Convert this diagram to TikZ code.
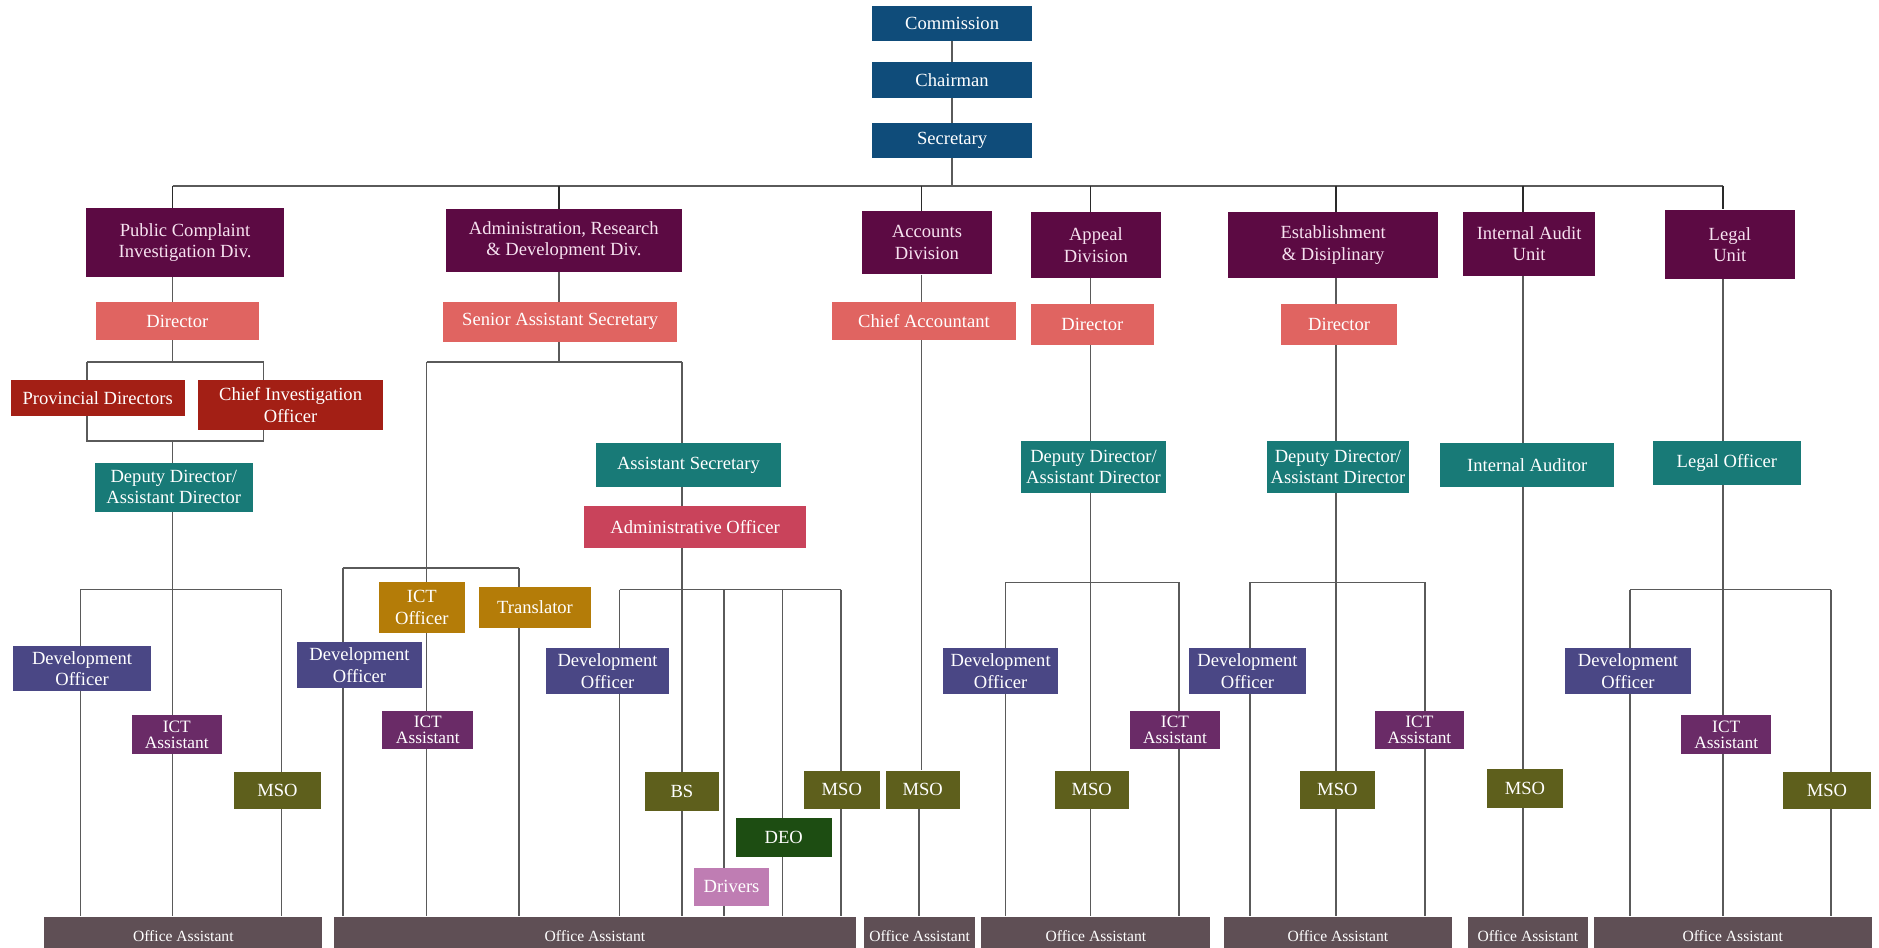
\documentclass[tikz,border=0pt]{standalone}
\usepackage{fontspec}
\setmainfont{Liberation Serif}
\usetikzlibrary{backgrounds}
\definecolor{cNavy}{HTML}{0F4C7A}
\definecolor{cDiv}{HTML}{5C0A43}
\definecolor{cDivTxt}{HTML}{F7E2F0}
\definecolor{cSalmon}{HTML}{E06461}
\definecolor{cRed}{HTML}{A31F15}
\definecolor{cTeal}{HTML}{187A77}
\definecolor{cRose}{HTML}{C9435B}
\definecolor{cGold}{HTML}{B47C08}
\definecolor{cDev}{HTML}{4A4785}
\definecolor{cIct}{HTML}{6A2B67}
\definecolor{cOlive}{HTML}{5E5F1C}
\definecolor{cDeo}{HTML}{1D4D12}
\definecolor{cDrv}{HTML}{BF7DB3}
\definecolor{cOA}{HTML}{5F4F55}
\definecolor{cLine}{HTML}{5A5A5A}
\definecolor{cTie}{HTML}{2A2A2A}
\tikzset{
  bx/.style={fill=#1, text=white, inner sep=0pt, align=center, font=\fontsize{15.5}{18}\selectfont},
  wh/.style 2 args={minimum width=#1pt, minimum height=#2pt},
  divbx/.style={bx=cDiv, text=cDivTxt},
  ictbx/.style={bx=cIct, font=\fontsize{14.5}{13}\selectfont},
  oabx/.style={bx=cOA, font=\fontsize{13}{15}\selectfont, minimum height=32pt},
  ln/.style={draw=cLine, line width=1.3pt},
  tie/.style={draw=cTie, line width=1.4pt},
}
\begin{document}
\begin{tikzpicture}[x=1pt,y=-1pt]
\useasboundingbox (0,0) rectangle (1568,791);
% ---------- top ----------
\node[bx=cNavy, wh={133}{29}] (comm) at (794.5,19.5) {Commission};
\node[bx=cNavy, wh={133}{30}] (chair) at (794.5,67) {Chairman};
\node[bx=cNavy, wh={133}{29}] (sec) at (794.5,117.5) {Secretary};
% ---------- divisions ----------
\node[divbx, wh={165}{57.6}] (pcid) at (154.4,202.4) {Public Complaint\\Investigation Div.};
\node[divbx, wh={197}{52.5}] (ard) at (470.5,200.8) {Administration, Research\\\& Development Div.};
\node[divbx, wh={109}{53}] (acc) at (773.5,202.5) {Accounts\\Division};
\node[divbx, wh={109}{55}] (app) at (914.5,204.5) {Appeal\\Division};
\node[divbx, wh={175}{55}] (est) at (1112.5,204.5) {Establishment\\\& Disiplinary};
\node[divbx, wh={110}{53}] (iau) at (1276,203.5) {Internal Audit\\Unit};
\node[divbx, wh={109}{58}] (leg) at (1443.5,204) {Legal\\Unit};
% ---------- level 2 ----------
\node[bx=cSalmon, wh={136}{32}] (pdir) at (148,268) {Director};
\node[bx=cSalmon, wh={195}{33}] (sas) at (467.5,268.5) {Senior Assistant Secretary};
\node[bx=cSalmon, wh={154}{32}] (cacc) at (771,268) {Chief Accountant};
\node[bx=cSalmon, wh={103}{34}] (adir) at (911.5,271) {Director};
\node[bx=cSalmon, wh={97}{34}] (edir) at (1117.5,271) {Director};
% ---------- PCID ----------
\node[bx=cRed, wh={145}{30}] (prov) at (81.5,332) {Provincial Directors};
\node[bx=cRed, wh={155}{42}] (cio) at (242.5,338) {Chief Investigation\\Officer};
\node[bx=cTeal, wh={132}{41}] (pdep) at (145,406.5) {Deputy Director/\\Assistant Director};
\node[bx=cDev, wh={115}{38}] (pdev) at (68.5,558) {Development\\Officer};
\node[ictbx, wh={75}{32}] (pict) at (147.5,613) {ICT\\Assistant};
\node[bx=cOlive, wh={73}{31}] (pmso) at (231.5,659.5) {MSO};
\node[oabx, minimum width=232pt] (poa) at (153,781) {Office Assistant};
% ---------- Admin ----------
\node[bx=cTeal, wh={155}{36}] (asec) at (574.5,388) {Assistant Secretary};
\node[bx=cRose, wh={186}{35}] (aoff) at (580,439.5) {Administrative Officer};
\node[bx=cGold, wh={72}{42}] (ictoff) at (352,507) {ICT\\Officer};
\node[bx=cGold, wh={93}{34}] (trans) at (446.5,507) {Translator};
\node[bx=cDev, wh={104}{38}] (adev1) at (300,555) {Development\\Officer};
\node[ictbx, wh={76}{32}] (aict) at (357,609) {ICT\\Assistant};
\node[bx=cDev, wh={102}{38}] (adev2) at (507,560) {Development\\Officer};
\node[bx=cOlive, wh={62}{33}] (bs) at (569,660.5) {BS};
\node[bx=cOlive, wh={63}{32}] (amso) at (702.5,659) {MSO};
\node[bx=cDeo, wh={80}{32}] (deo) at (654,699) {DEO};
\node[bx=cDrv, wh={63}{32}] (drv) at (610.5,740) {Drivers};
\node[oabx, minimum width=435pt] (aoa) at (496.5,781) {Office Assistant};
% ---------- Accounts ----------
\node[bx=cOlive, wh={62}{32}] (cmso) at (770,659) {MSO};
\node[oabx, minimum width=93pt] (coa) at (767.5,781) {Office Assistant};
% ---------- Appeal ----------
\node[bx=cTeal, wh={121}{43}] (apdep) at (912.5,389.5) {Deputy Director/\\Assistant Director};
\node[bx=cDev, wh={96}{38}] (apdev) at (835,560) {Development\\Officer};
\node[ictbx, wh={75}{32}] (apict) at (980.5,609) {ICT\\Assistant};
\node[bx=cOlive, wh={62}{32}] (apmso) at (911,659) {MSO};
\node[oabx, minimum width=191pt] (apoa) at (914.5,781) {Office Assistant};
% ---------- Establishment ----------
\node[bx=cTeal, wh={119}{43}] (esdep) at (1116.5,389.5) {Deputy Director/\\Assistant Director};
\node[bx=cDev, wh={98}{38}] (esdev) at (1041,560) {Development\\Officer};
\node[ictbx, wh={75}{32}] (esict) at (1184.5,609) {ICT\\Assistant};
\node[bx=cOlive, wh={62}{32}] (esmso) at (1116,659) {MSO};
\node[oabx, minimum width=191pt] (esoa) at (1116.5,781) {Office Assistant};
% ---------- Internal Audit ----------
\node[bx=cTeal, wh={145}{36}] (iaud) at (1274.5,388) {Internal Auditor};
\node[bx=cOlive, wh={63}{32}] (iamso) at (1272.5,658) {MSO};
\node[oabx, minimum width=100pt] (iaoa) at (1275,781) {Office Assistant};
% ---------- Legal ----------
\node[bx=cTeal, wh={124}{37}] (lofc) at (1441,386.5) {Legal Officer};
\node[bx=cDev, wh={105}{38}] (ldev) at (1358.5,560) {Development\\Officer};
\node[ictbx, wh={75}{32}] (lict) at (1440.5,613) {ICT\\Assistant};
\node[bx=cOlive, wh={73}{31}] (lmso) at (1524.5,659.5) {MSO};
\node[oabx, minimum width=232pt] (loa) at (1446,781) {Office Assistant};

% ---------- junction coordinates ----------
\coordinate (busL) at (144,155); \coordinate (busR) at (1438,155);
\coordinate (tP) at (144,155); \coordinate (tA) at (466.6,155); \coordinate (tC) at (769,155);
\coordinate (tAp) at (910,155); \coordinate (tE) at (1115,155); \coordinate (tI) at (1271,155);
\coordinate (tL) at (1438,155);
% PCID
\coordinate (pBr) at (144,302); \coordinate (pBrL) at (72.6,302); \coordinate (pBrR) at (220,302);
\coordinate (pBr2) at (144,368); \coordinate (pBr2L) at (72.6,368); \coordinate (pBr2R) at (220,368);
\coordinate (pBus) at (144,492); \coordinate (pBusL) at (67,492); \coordinate (pBusR) at (235,492);
% Admin
\coordinate (aBr) at (466.6,302); \coordinate (aBrL) at (356,302); \coordinate (aBrR) at (569,302);
\coordinate (aL) at (356,474); \coordinate (aLL) at (286,474); \coordinate (aLR) at (433,474);
\coordinate (aR) at (569,492); \coordinate (aR1) at (517,492); \coordinate (aR3) at (604,492);
\coordinate (aR4) at (653,492); \coordinate (aR5) at (702,492);
% Appeal, Establishment, Legal buses
\coordinate (apB) at (910,486); \coordinate (apBL) at (839,486); \coordinate (apBR) at (984,486);
\coordinate (esB) at (1115,486); \coordinate (esBL) at (1043,486); \coordinate (esBR) at (1189,486);
\coordinate (lB) at (1438,492); \coordinate (lBL) at (1360,492); \coordinate (lBR) at (1528,492);

\begin{scope}[on background layer]
% top
\draw[ln] (comm) -- (chair);
\draw[ln] (chair) -- (sec);
\draw[ln] (sec.south) -- (sec.south |- busL);
\draw[ln] (busL) -- (busR);
\foreach \t/\d in {tP/pcid, tA/ard, tC/acc, tAp/app, tE/est, tI/iau, tL/leg}
  \draw[tie] (\t) -- (\t |- \d.north);
% PCID
\draw[ln] (pcid.south -| tP) -- (pBr);
\draw[ln] (pBrL) -- (pBrR);
\draw[ln] (pBrL) -- (pBr2L) -- (pBr2R) -- (pBrR);
\draw[ln] (pBr2) -- (pBus);
\draw[ln] (pBusL) -- (pBusR);
\foreach \c in {pBusL, pBus, pBusR} \draw[ln] (\c) -- (\c |- poa.north);
% Admin
\draw[ln] (ard.south -| tA) -- (aBr);
\draw[ln] (aBrL) -- (aBrR);
\draw[ln] (aBrL) -- (aL);
\draw[ln] (aLL) -- (aLR);
\foreach \c in {aLL, aL, aLR} \draw[ln] (\c) -- (\c |- aoa.north);
\draw[ln] (aBrR) -- (aR);
\draw[ln] (aR1) -- (aR5);
\foreach \c in {aR1, aR, aR3, aR4, aR5} \draw[ln] (\c) -- (\c |- aoa.north);
% Accounts
\draw[ln] (acc.south -| tC) -- (tC |- cmso.north);
\draw[ln] ([xshift=-3pt]cmso.south) -- ([xshift=-3pt]cmso.south |- coa.north);
% Appeal
\draw[ln] (app.south -| tAp) -- (apB);
\draw[ln] (apBL) -- (apBR);
\foreach \c in {apBL, apB, apBR} \draw[ln] (\c) -- (\c |- apoa.north);
% Establishment
\draw[ln] (est.south -| tE) -- (esB);
\draw[ln] (esBL) -- (esBR);
\foreach \c in {esBL, esB, esBR} \draw[ln] (\c) -- (\c |- esoa.north);
% Internal audit
\draw[ln] (iau.south -| tI) -- (tI |- iaoa.north);
% Legal
\draw[ln] (leg.south -| tL) -- (lB);
\draw[ln] (lBL) -- (lBR);
\foreach \c in {lBL, lB, lBR} \draw[ln] (\c) -- (\c |- loa.north);
\end{scope}
\end{tikzpicture}
\end{document}
